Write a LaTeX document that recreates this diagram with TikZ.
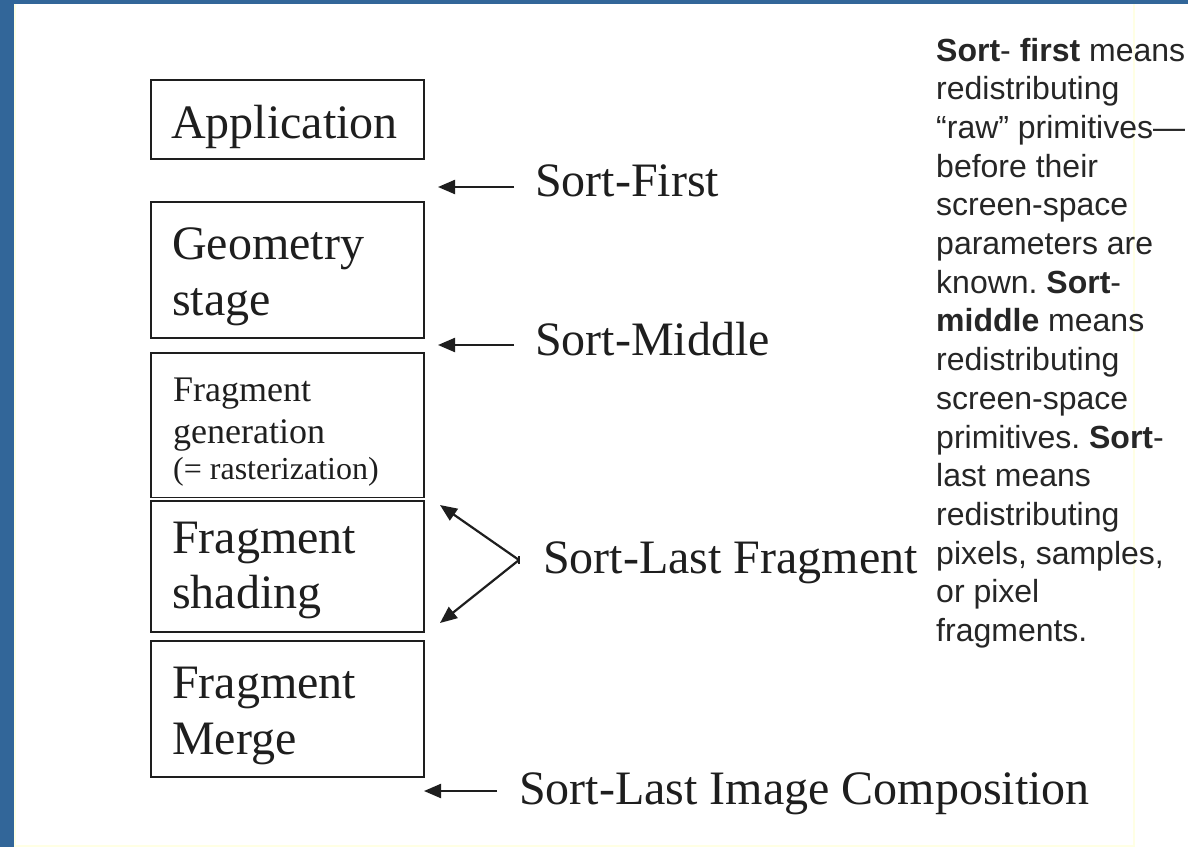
\documentclass[tikz,border=0pt]{standalone}
\usepackage{fontspec}
\setmainfont{Liberation Serif}
\newfontfamily\descfont{Liberation Sans}
\usetikzlibrary{arrows.meta}
\definecolor{frameblue}{RGB}{50,102,153}
\definecolor{paleyellow}{RGB}{255,255,228}
\definecolor{ink}{RGB}{30,30,30}
\definecolor{desink}{RGB}{38,38,38}
\frenchspacing

\begin{document}
\begin{tikzpicture}[x=1pt,y=-1pt,
  stagebox/.style={draw=ink, line width=1.8pt, inner sep=0pt, outer sep=0pt, minimum width=273pt},
  bigtxt/.style={anchor=base west, inner sep=0pt, text=ink, font=\fontsize{48}{56}\selectfont},
  midtxt/.style={anchor=base west, inner sep=0pt, text=ink, font=\fontsize{36}{42}\selectfont},
  smalltxt/.style={anchor=base west, inner sep=0pt, text=ink, font=\fontsize{32}{38}\selectfont},
  desc/.style={anchor=base west, inner sep=0pt, text=desink, font=\descfont\fontsize{32}{38}\selectfont},
  sortarrow/.style={draw=ink, line width=2.2pt, -{Triangle[length=17pt,width=14pt]}}
]
\useasboundingbox (0,0) rectangle (1188,847);

% page frame
\fill[white] (0,0) rectangle (1188,847);
\fill[paleyellow] (14,844.5) rectangle (1134.5,847);
\fill[paleyellow] (1132.5,4) rectangle (1134.5,847);
\fill[paleyellow] (14,4) rectangle (15.5,847);
\fill[frameblue] (0,0) rectangle (14,847);
\fill[frameblue] (0,0) rectangle (1188,4);

% pipeline stages
\node[stagebox, minimum height=79pt]   (app)   at (287.5,119.5)  {};
\node[stagebox, minimum height=136pt]  (geo)   at (287.5,270)    {};
\node[stagebox, minimum height=144.5pt](gen)   at (287.5,425.25) {};
\node[stagebox, minimum height=131pt]  (shade) at (287.5,566.5)  {};
\node[stagebox, minimum height=136pt]  (merge) at (287.5,709)    {};

\node[bigtxt] (appA) at (171,138) {Application};
\node[bigtxt] (geoA) at (172,259) {Geometry};
\node[bigtxt] (geoB) at (172,315) {stage};
\node[midtxt] (genA) at (173,401) {Fragment};
\node[midtxt] (genB) at (173,443) {generation};
\node[smalltxt] (genC) at (173,479) {(= rasterization)};
\node[bigtxt] (shA) at (172,553) {Fragment};
\node[bigtxt] (shB) at (172,608) {shading};
\node[bigtxt] (mgA) at (172,698) {Fragment};
\node[bigtxt] (mgB) at (172,754) {Merge};

% sorting points
\node[bigtxt] (sfirst) at (535,196) {Sort-First};
\node[bigtxt] (smid)   at (535,355) {Sort-Middle};
\node[bigtxt] (slfrag) at (543,573) {Sort-Last Fragment};
\node[bigtxt] (slimg)  at (519,804) {Sort-Last Image Composition};

\coordinate (sfT) at (514,187);  \coordinate (sfH) at (438,187);
\coordinate (smT) at (514,345);  \coordinate (smH) at (438,345);
\coordinate (siT) at (497,791);  \coordinate (siH) at (424,791);
\coordinate (vtx) at (519,560);
\coordinate (upH) at (440,505);  \coordinate (loH) at (440,623);

\draw[sortarrow] (sfT) -- (sfH);
\draw[sortarrow] (smT) -- (smH);
\draw[sortarrow] (siT) -- (siH);
\draw[sortarrow] (vtx) -- (upH);
\draw[sortarrow] (vtx) -- (loH);
\draw[ink, line width=1.2pt] ([yshift=-4pt]vtx) -- ([yshift=4pt]vtx);

% explanation column
\foreach \t [count=\i] in {
  {\textbf{Sort}- \textbf{first} means},
  {redistributing},
  {“raw” primitives—},
  {before their},
  {screen-space},
  {parameters are},
  {known. \textbf{Sort}-},
  {\textbf{middle} means},
  {redistributing},
  {screen-space},
  {primitives. \textbf{Sort}-},
  {last means},
  {redistributing},
  {pixels, samples,},
  {or pixel},
  {fragments.}}
  \node[desc] (d\i) at (936,{61+(\i-1)*38.7}) {\t};
\end{tikzpicture}
\end{document}
